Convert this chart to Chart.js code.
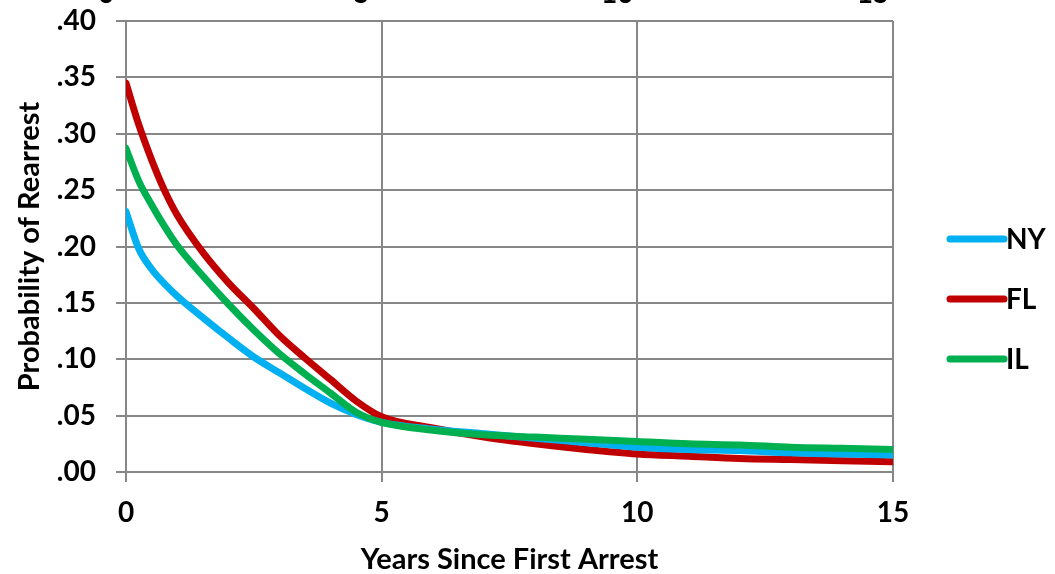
<!DOCTYPE html>
<html>
<head>
<meta charset="utf-8">
<script src="https://cdn.jsdelivr.net/npm/chart.js@4"></script>
<style>
  html, body { margin: 0; padding: 0; background: #fff; }
  #wrap { width: 1055px; height: 574px; position: relative; }
</style>
</head>
<body>
<div id="wrap"><canvas id="rearrestChart"></canvas></div>
<script>
// values
const years = [0, 0.25, 0.5, 0.75, 1, 1.5, 2, 2.5, 3, 3.5, 4, 4.5, 5, 6, 7, 8, 9, 10, 11, 12, 13, 14, 15];
const ny = [.231, .198, .180, .167, .156, .137, .119, .102, .088, .074, .061, .051, .044, .038, .034, .030, .026, .022, .020, .019, .017, .016, .015];
const fl = [.345, .308, .277, .250, .228, .195, .168, .145, .121, .101, .082, .063, .049, .039, .031, .025, .020, .016, .014, .012, .011, .010, .009];
const il = [.287, .258, .237, .218, .201, .174, .149, .126, .105, .087, .070, .053, .044, .037, .033, .031, .029, .027, .025, .024, .022, .021, .020];
const seriesNames = ['NY', 'FL', 'IL'];
const xTicks = [0, 5, 10, 15];
const yTicks = [0, .05, .10, .15, .20, .25, .30, .35, .40];
// cut-off tick labels of the chart above, only their bottoms show
const topTickLabels = ['0', '5', '10', '15'];

const GRID = '#878787';
const FONT = { family: 'Lato', weight: 'bold', size: 28 };
const TITLE_FONT = { family: 'Lato', weight: 'bold', size: 29 };

function points(ys) {
  return years.map((x, i) => ({ x, y: ys[i] }));
}

const sideLegend = {
  id: 'sideLegend',
  afterDraw(chart) {
    const ctx = chart.ctx;
    ctx.save();
    ctx.font = 'bold 28px Lato';
    ctx.textBaseline = 'middle';
    ctx.fillStyle = '#000';
    ctx.lineCap = 'round';
    ctx.lineWidth = 7;
    seriesNames.forEach((name, i) => {
      const ds = chart.data.datasets.find(d => d.label === name);
      const y = 239 + i * 60;
      ctx.strokeStyle = ds.borderColor;
      ctx.beginPath();
      ctx.moveTo(950, y);
      ctx.lineTo(1004, y);
      ctx.stroke();
      ctx.fillText(name, 1006, y + 1);
    });
    // remnants of the neighbouring chart's axis at the top edge
    const xs = chart.scales.x;
    ctx.textAlign = 'center';
    ctx.textBaseline = 'alphabetic';
    topTickLabels.forEach((t, i) => {
      ctx.fillText(t, xs.getPixelForValue(xTicks[i]) - 20, 3);
    });
    ctx.restore();
  }
};

new Chart(document.getElementById('rearrestChart'), {
  type: 'line',
  data: {
    datasets: [
      { label: 'IL', data: points(il), borderColor: '#00B050', order: 0 },
      { label: 'NY', data: points(ny), borderColor: '#00B0F0', order: 1 },
      { label: 'FL', data: points(fl), borderColor: '#C00000', order: 2 }
    ]
  },
  options: {
    responsive: true,
    maintainAspectRatio: false,
    animation: false,
    layout: { padding: { top: 21, right: 162, left: 0, bottom: 0 } },
    elements: {
      point: { radius: 0 },
      line: { borderWidth: 7, cubicInterpolationMode: 'monotone', borderCapStyle: 'round', borderJoinStyle: 'round' }
    },
    plugins: { legend: { display: false }, tooltip: { enabled: false } },
    scales: {
      x: {
        type: 'linear', min: 0, max: 15,
        afterBuildTicks: s => { s.ticks = xTicks.map(v => ({ value: v })); },
        afterFit: s => { s.height = 102; s.paddingLeft = 0; s.paddingRight = 0; },
        grid: { color: GRID, lineWidth: 2, tickLength: 10 },
        border: { color: GRID, width: 2 },
        ticks: { color: '#000', font: FONT, padding: 14, maxRotation: 0 },
        title: { display: true, text: 'Years Since First Arrest', color: '#000', font: TITLE_FONT, padding: { top: 0, bottom: -3 } }
      },
      y: {
        min: 0, max: 0.4,
        afterBuildTicks: s => { s.ticks = yTicks.map(v => ({ value: v })); },
        afterFit: s => { s.width = 126; s.paddingTop = 0; s.paddingBottom = 0; },
        grid: { color: GRID, lineWidth: 2, tickLength: 10 },
        border: { color: GRID, width: 2 },
        ticks: {
          color: '#000', font: FONT, padding: 20,
          callback: v => v.toFixed(2).replace(/^0/, '')
        },
        title: { display: true, text: 'Probability of Rearrest', color: '#000', font: TITLE_FONT, padding: { top: 12, bottom: 0 } }
      }
    }
  },
  plugins: [sideLegend]
});
</script>
</body>
</html>
